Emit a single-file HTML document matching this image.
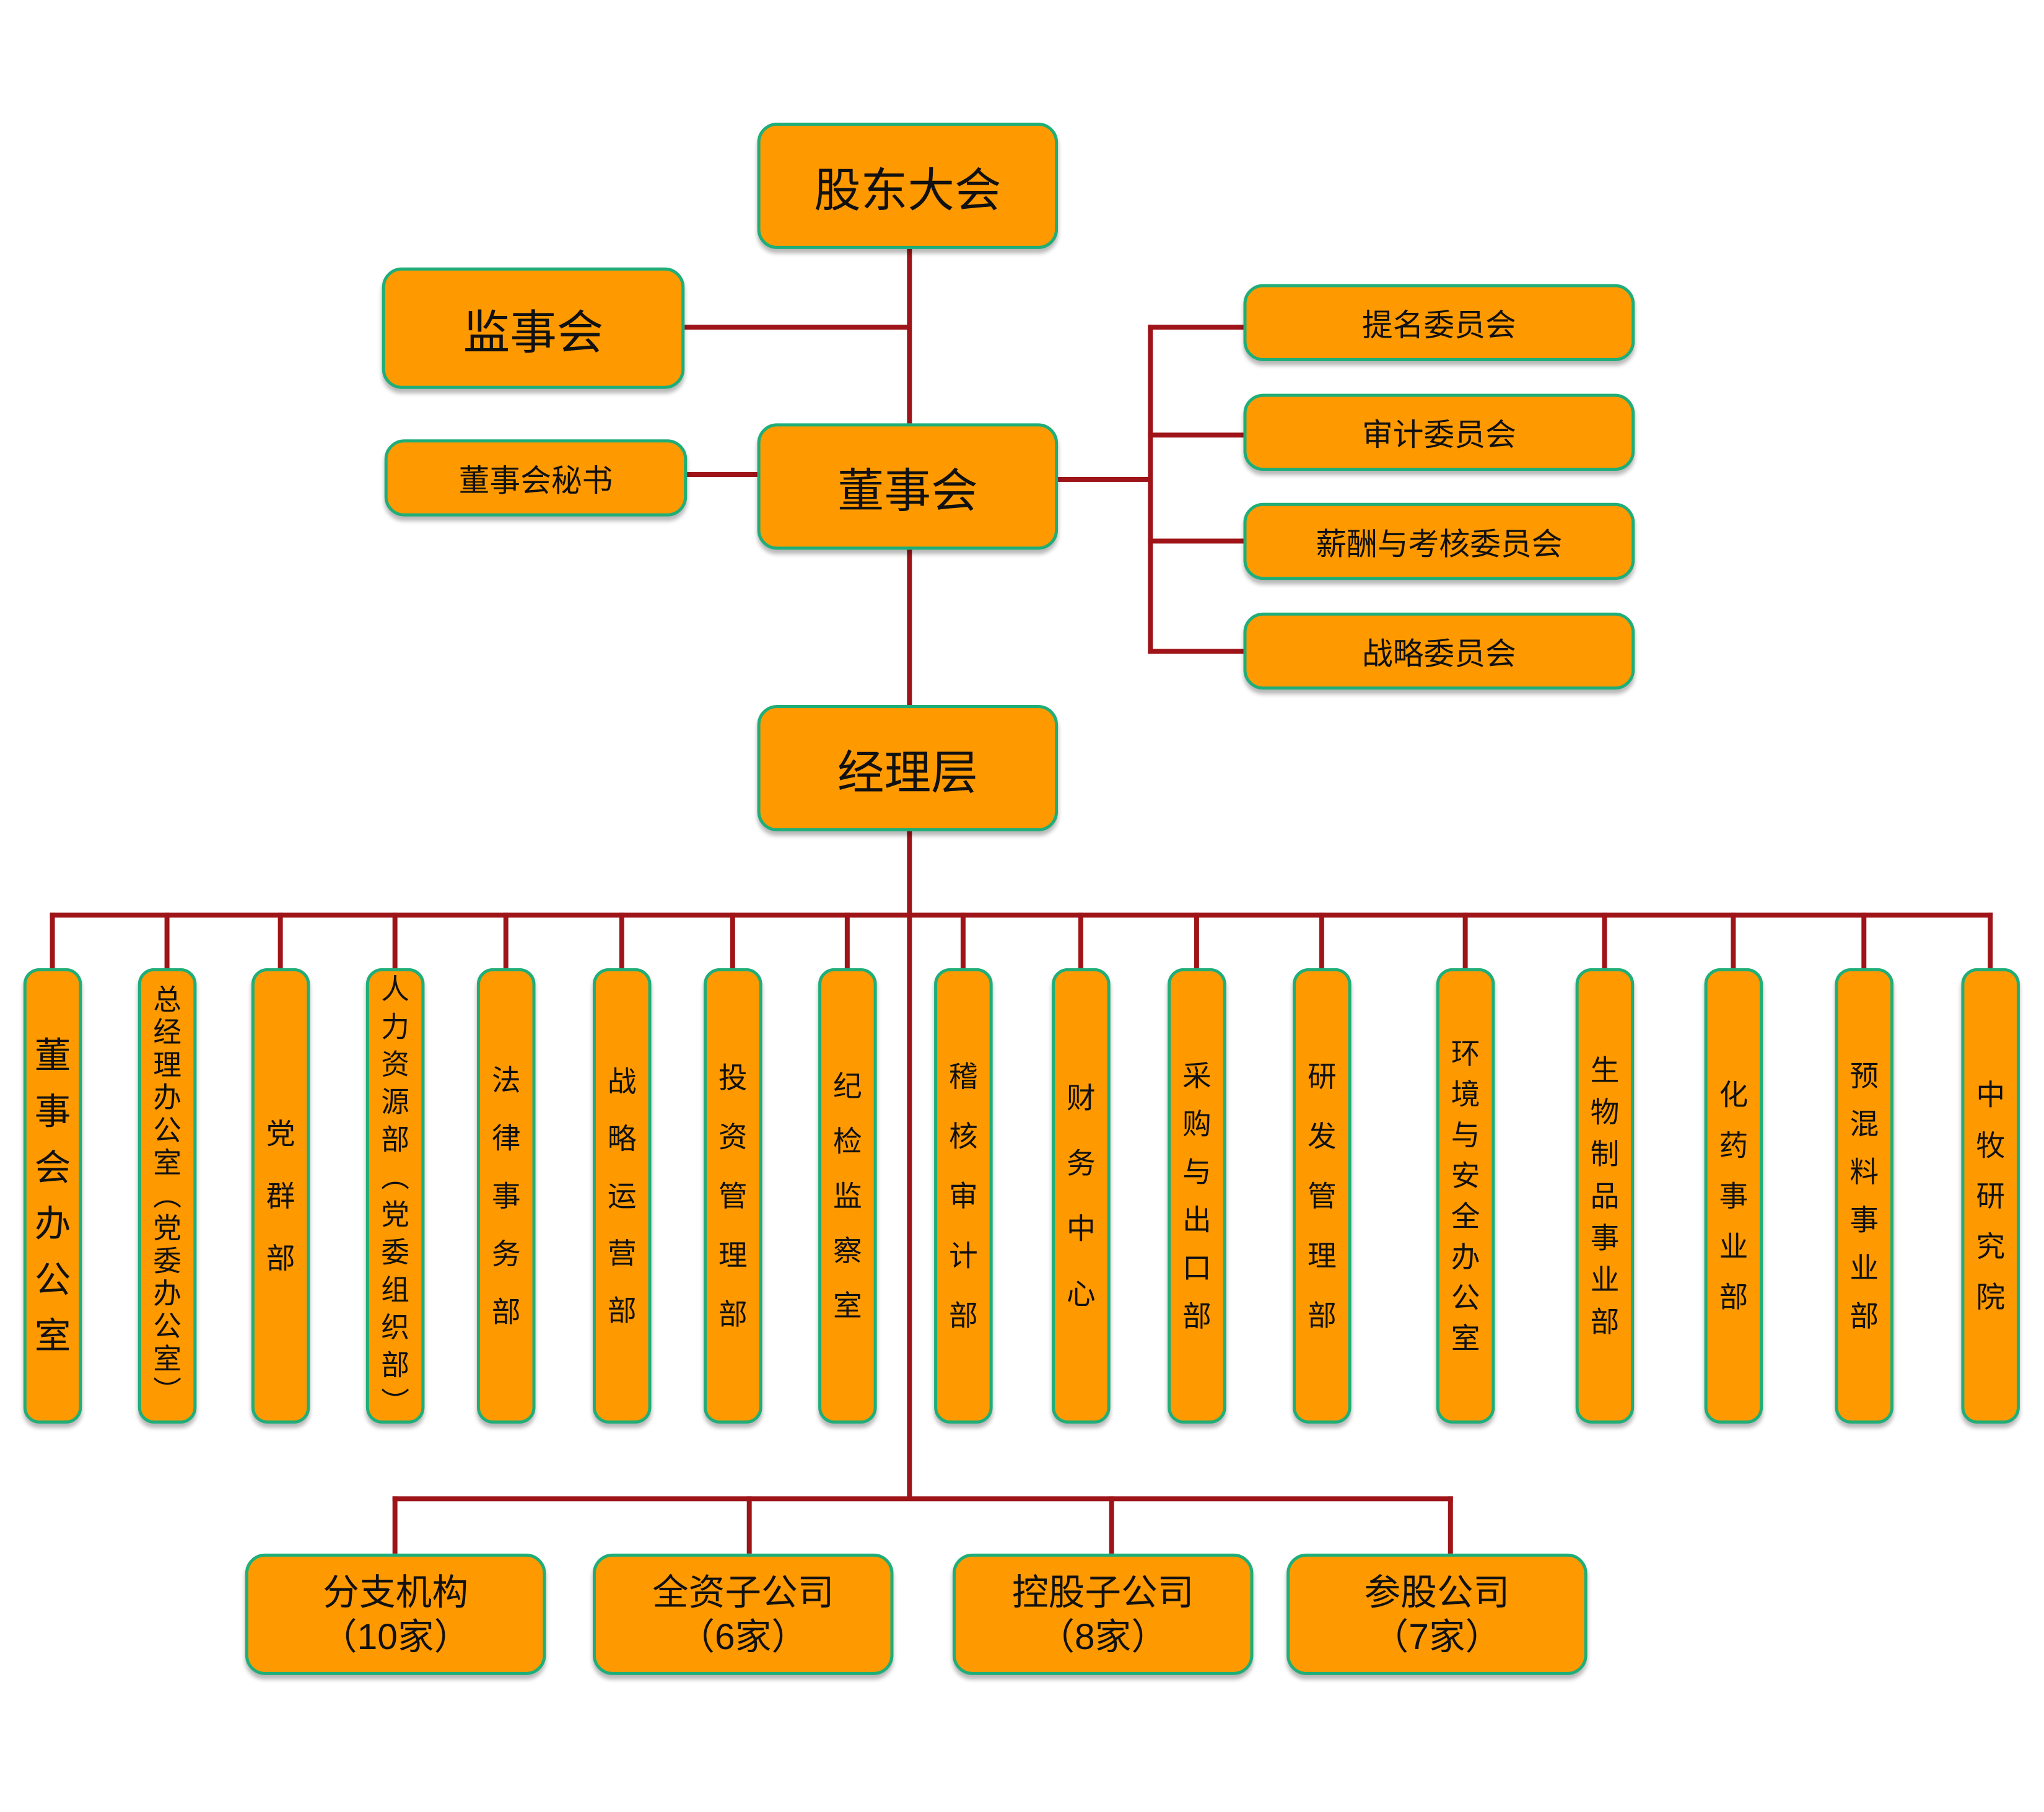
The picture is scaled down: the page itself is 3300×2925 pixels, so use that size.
<!DOCTYPE html>
<html><head><meta charset="utf-8"><style>
body{margin:0;width:3300px;height:2917px;background:#fff;position:relative;overflow:hidden;font-family:"Liberation Sans","Noto Sans CJK SC",sans-serif;color:#111}
#c{position:absolute;left:0;top:0;width:3320px;height:2940px;transform:scale(0.9948);transform-origin:0 0}
.b{position:absolute;box-sizing:border-box;background:#FF9900;border:5px solid #1fae78;border-radius:32px;box-shadow:0 7px 7px rgba(0,0,0,.28);display:flex;align-items:center;justify-content:center;text-align:center}
.l{position:absolute;background:#9e1418}
.h{height:8px}.w{width:8px}
.v{position:absolute;top:1571px;width:95px;height:739px;box-sizing:border-box;background:#FF9900;border:5px solid #1fae78;border-radius:26px;box-shadow:0 7px 7px rgba(0,0,0,.28);display:flex;flex-direction:column;align-items:center;justify-content:center;font-size:47px}
.v span{display:block;height:var(--p);line-height:var(--p)}
</style></head><body><div id="c">
<div class="l w" style="left:1472px;top:404px;height:283px"></div>
<div class="l w" style="left:1472px;top:892px;height:252px"></div>
<div class="l w" style="left:1472px;top:1349px;height:1086px"></div>
<div class="l h" style="left:1111px;top:527px;width:365px"></div>
<div class="l h" style="left:1115px;top:766px;width:114px"></div>
<div class="l h" style="left:1717px;top:774px;width:153px"></div>
<div class="l w" style="left:1863px;top:527px;height:534px"></div>
<div class="l h" style="left:1863px;top:527px;width:155px"></div>
<div class="l h" style="left:1863px;top:702px;width:155px"></div>
<div class="l h" style="left:1863px;top:874px;width:155px"></div>
<div class="l h" style="left:1863px;top:1053px;width:155px"></div>
<div class="l h" style="left:81px;top:1481px;width:3153px"></div>
<div class="l w" style="left:81px;top:1481px;height:91px"></div>
<div class="l w" style="left:267px;top:1481px;height:91px"></div>
<div class="l w" style="left:451px;top:1481px;height:91px"></div>
<div class="l w" style="left:637px;top:1481px;height:91px"></div>
<div class="l w" style="left:817px;top:1481px;height:91px"></div>
<div class="l w" style="left:1005px;top:1481px;height:91px"></div>
<div class="l w" style="left:1185px;top:1481px;height:91px"></div>
<div class="l w" style="left:1371px;top:1481px;height:91px"></div>
<div class="l w" style="left:1559px;top:1481px;height:91px"></div>
<div class="l w" style="left:1750px;top:1481px;height:91px"></div>
<div class="l w" style="left:1938px;top:1481px;height:91px"></div>
<div class="l w" style="left:2141px;top:1481px;height:91px"></div>
<div class="l w" style="left:2374px;top:1481px;height:91px"></div>
<div class="l w" style="left:2600px;top:1481px;height:91px"></div>
<div class="l w" style="left:2809px;top:1481px;height:91px"></div>
<div class="l w" style="left:3021px;top:1481px;height:91px"></div>
<div class="l w" style="left:3226px;top:1481px;height:91px"></div>
<div class="l h" style="left:637px;top:2428px;width:1721px"></div>
<div class="l w" style="left:637px;top:2428px;height:93px"></div>
<div class="l w" style="left:1212px;top:2428px;height:93px"></div>
<div class="l w" style="left:1800px;top:2428px;height:93px"></div>
<div class="l w" style="left:2350px;top:2428px;height:93px"></div>
<div class="b" style="left:1229px;top:199px;width:488px;height:205px;font-size:76px">股东大会</div>
<div class="b" style="left:620px;top:434px;width:491px;height:197px;font-size:76px">监事会</div>
<div class="b" style="left:624px;top:713px;width:491px;height:125px;font-size:50px">董事会秘书</div>
<div class="b" style="left:1229px;top:687px;width:488px;height:205px;font-size:76px">董事会</div>
<div class="b" style="left:1229px;top:1144px;width:488px;height:205px;font-size:76px">经理层</div>
<div class="b" style="left:2018px;top:461px;width:635px;height:125px;font-size:50px">提名委员会</div>
<div class="b" style="left:2018px;top:639px;width:635px;height:125px;font-size:50px">审计委员会</div>
<div class="b" style="left:2018px;top:816px;width:635px;height:125px;font-size:50px">薪酬与考核委员会</div>
<div class="b" style="left:2018px;top:994px;width:635px;height:125px;font-size:50px">战略委员会</div>
<div class="v" style="left:38px;--p:91px;font-size:59px"><span>董</span><span>事</span><span>会</span><span>办</span><span>公</span><span>室</span></div>
<div class="v" style="left:224px;--p:53px;font-size:46px"><span>总</span><span>经</span><span>理</span><span>办</span><span>公</span><span>室</span><span>︵</span><span>党</span><span>委</span><span>办</span><span>公</span><span>室</span><span>︶</span></div>
<div class="v" style="left:408px;--p:101px"><span>党</span><span>群</span><span>部</span></div>
<div class="v" style="left:594px;--p:61px;font-size:46px"><span>人</span><span>力</span><span>资</span><span>源</span><span>部</span><span>︵</span><span>党</span><span>委</span><span>组</span><span>织</span><span>部</span><span>︶</span></div>
<div class="v" style="left:774px;--p:94px"><span>法</span><span>律</span><span>事</span><span>务</span><span>部</span></div>
<div class="v" style="left:962px;--p:93px"><span>战</span><span>略</span><span>运</span><span>营</span><span>部</span></div>
<div class="v" style="left:1142px;--p:96px"><span>投</span><span>资</span><span>管</span><span>理</span><span>部</span></div>
<div class="v" style="left:1328px;--p:89px"><span>纪</span><span>检</span><span>监</span><span>察</span><span>室</span></div>
<div class="v" style="left:1516px;--p:97px"><span>稽</span><span>核</span><span>审</span><span>计</span><span>部</span></div>
<div class="v" style="left:1707px;--p:106px"><span>财</span><span>务</span><span>中</span><span>心</span></div>
<div class="v" style="left:1895px;--p:78px"><span>采</span><span>购</span><span>与</span><span>出</span><span>口</span><span>部</span></div>
<div class="v" style="left:2098px;--p:97px"><span>研</span><span>发</span><span>管</span><span>理</span><span>部</span></div>
<div class="v" style="left:2331px;--p:66px"><span>环</span><span>境</span><span>与</span><span>安</span><span>全</span><span>办</span><span>公</span><span>室</span></div>
<div class="v" style="left:2557px;--p:68px"><span>生</span><span>物</span><span>制</span><span>品</span><span>事</span><span>业</span><span>部</span></div>
<div class="v" style="left:2766px;--p:82px"><span>化</span><span>药</span><span>事</span><span>业</span><span>部</span></div>
<div class="v" style="left:2978px;--p:78px"><span>预</span><span>混</span><span>料</span><span>事</span><span>业</span><span>部</span></div>
<div class="v" style="left:3183px;--p:82px"><span>中</span><span>牧</span><span>研</span><span>究</span><span>院</span></div>
<div class="b" style="left:398px;top:2521px;width:488px;height:197px;font-size:59px;line-height:72px">分支机构<br>（10家）</div>
<div class="b" style="left:962px;top:2521px;width:488px;height:197px;font-size:59px;line-height:72px">全资子公司<br>（6家）</div>
<div class="b" style="left:1546px;top:2521px;width:488px;height:197px;font-size:59px;line-height:72px">控股子公司<br>（8家）</div>
<div class="b" style="left:2088px;top:2521px;width:488px;height:197px;font-size:59px;line-height:72px">参股公司<br>（7家）</div>
</div></body></html>
